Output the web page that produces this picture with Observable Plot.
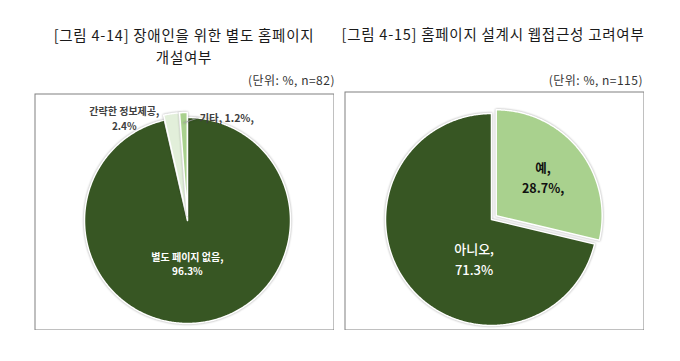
<!DOCTYPE html>
<html><head><meta charset="utf-8">
<script src="https://cdn.jsdelivr.net/npm/d3@7"></script>
<script src="https://cdn.jsdelivr.net/npm/@observablehq/plot@0.6"></script>
<style>
html,body{margin:0;padding:0;background:#fff;}
#wrap{position:relative;width:680px;height:361px;background:#fff;font-family:"Noto Sans CJK KR","Noto Sans",sans-serif;color:#1a1a1a;}
.t{position:absolute;white-space:nowrap;}
.title{font-size:14.5px;line-height:22px;text-align:center;width:320px;letter-spacing:0.75px;}
.unit{font-size:12px;line-height:14px;color:#333;text-align:right;letter-spacing:0.5px;}
.panel{position:absolute;}
.panel g[aria-label="line"] path{filter:drop-shadow(0 0 1.2px rgba(0,0,0,0.35));}
</style></head>
<body><div id="wrap"></div>
<script>
// ---- data ----
const leftTitle = ["[그림 4-14] 장애인을 위한 별도 홈페이지", "개설여부"];
const leftUnit = "(단위: %, n=82)";
const leftCategories = ["별도 페이지 없음", "간략한 정보제공", "기타"];
const leftValues = [96.3, 2.4, 1.2];
const leftColors = ["#375623", "#e2efda", "#a9d18e"];

const rightTitle = ["[그림 4-15] 홈페이지 설계시 웹접근성 고려여부"];
const rightUnit = "(단위: %, n=115)";
const rightCategories = ["예", "아니오"];
const rightValues = [28.7, 71.3];
const rightColors = ["#a9d18e", "#375623"];

// ---- layout ----
const wrap = document.getElementById("wrap");
function addText(cls, html, style) {
  const d = document.createElement("div");
  d.className = "t " + cls;
  d.innerHTML = html;
  Object.assign(d.style, style);
  wrap.appendChild(d);
}
addText("title", leftTitle.join("<br>"), {left: "24px", top: "24px"});
addText("unit", leftUnit, {right: "345px", top: "73px"});
addText("title", rightTitle.join("<br>"), {left: "333px", top: "23px"});
addText("unit", rightUnit, {right: "37px", top: "73px"});

function piePanel(o) {
  const {categories, values, colors, W, H, cx, cy, r, explode, labels} = o;
  const arcs = d3.pie().sort(null).value(d => d)(values);
  const pts = [];
  arcs.forEach((a, i) => {
    const mid = (a.startAngle + a.endAngle) / 2;
    const ex = explode[i] / r;
    const ox = ex * Math.sin(mid), oy = ex * Math.cos(mid);
    const key = categories[i];
    pts.push({key, x: ox, y: oy});
    const n = Math.max(4, Math.ceil((a.endAngle - a.startAngle) / 0.01));
    for (let k = 0; k <= n; k++) {
      const t = a.startAngle + (a.endAngle - a.startAngle) * k / n;
      pts.push({key, x: ox + Math.sin(t), y: oy + Math.cos(t)});
    }
  });
  const marks = [
    Plot.frame({stroke: "#808080", strokeWidth: 1, inset: 0.5}),
    Plot.line(pts, {x: "x", y: "y", z: "key", fill: "key", stroke: "#fff", strokeWidth: 1.5, curve: "linear-closed"})
  ];
  labels.forEach(L => {
    const a = arcs[L.i];
    const mid = (a.startAngle + a.endAngle) / 2;
    const rr = L.k + explode[L.i] / r;
    const p = {x: rr * Math.sin(mid), y: rr * Math.cos(mid), text: L.text};
    if (L.leader) {
      const s = {x: (0.9 + explode[L.i] / r) * Math.sin(mid), y: (0.9 + explode[L.i] / r) * Math.cos(mid)};
      const e = {x: p.x + (L.dx - 2) / r, y: p.y - L.dy / r};
      const b = {x: e.x - 1 / r, y: e.y};
      marks.push(Plot.line([s, b, e], {x: "x", y: "y", stroke: "#a5a5a5", strokeWidth: 0.8}));
    }
    marks.push(Plot.text([p], {x: "x", y: "y", text: "text", dx: L.dx, dy: L.dy,
      fill: L.fill, fontSize: L.fontSize, fontWeight: L.fontWeight, lineHeight: L.lineHeight,
      textAnchor: L.anchor || "middle", fontFamily: "Noto Sans CJK KR"}));
  });
  const svg = Plot.plot({
    width: W, height: H, margin: 0,
    x: {domain: [-cx / r, (W - cx) / r], range: [0, W], axis: null},
    y: {domain: [-(H - cy) / r, cy / r], range: [H, 0], axis: null},
    color: {domain: categories, range: colors},
    style: {background: "transparent", fontFamily: "Noto Sans CJK KR"},
    marks
  });
  svg.classList.add("panel");
  Object.assign(svg.style, {left: o.left + "px", top: o.top + "px", position: "absolute"});
  wrap.appendChild(svg);
}

piePanel({
  categories: leftCategories, values: leftValues, colors: leftColors,
  left: 34, top: 93, W: 300, H: 237, cx: 153, cy: 127, r: 103, explode: [0, 5, 5],
  labels: [
    {i: 0, k: 0.42, dx: -5, dy: 0, text: `${leftCategories[0]},\n${leftValues[0]}%`, fill: "#fff", fontSize: 10, fontWeight: 700, lineHeight: 1.45},
    {i: 1, k: 1.0, dx: -47, dy: 4, text: `${leftCategories[1]},\n${leftValues[1]}%`, fill: "#404040", fontSize: 10, fontWeight: 700, lineHeight: 1.45},
    {i: 2, k: 1.0, dx: 16, dy: 6, anchor: "start", leader: true, text: `${leftCategories[2]}, ${leftValues[2]}%,`, fill: "#404040", fontSize: 10.5, fontWeight: 700, lineHeight: 1.1}
  ]
});

piePanel({
  categories: rightCategories, values: rightValues, colors: rightColors,
  left: 344, top: 91, W: 300, H: 239, cx: 147, cy: 128, r: 106, explode: [6, 0],
  labels: [
    {i: 0, k: 0.6, dx: -3, dy: 0, text: `${rightCategories[0]},\n${rightValues[0]}%,`, fill: "#111", fontSize: 12.5, fontWeight: 700, lineHeight: 1.6},
    {i: 1, k: 0.45, dx: 20, dy: 9, text: `${rightCategories[1]},\n${rightValues[1]}%`, fill: "#fff", fontSize: 13, fontWeight: 500, lineHeight: 1.55}
  ]
});
</script></body></html>
